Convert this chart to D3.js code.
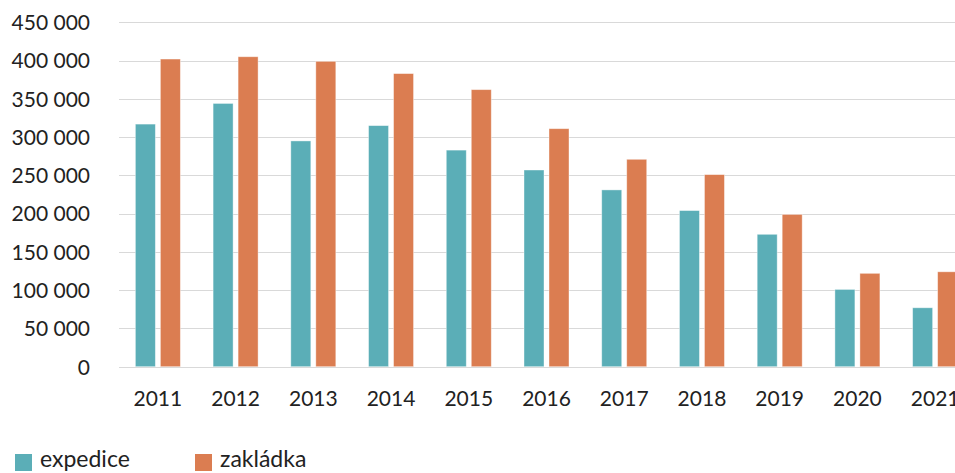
<!DOCTYPE html>
<html>
<head>
<meta charset="utf-8">
<script src="https://cdn.jsdelivr.net/npm/d3@7"></script>
<style>
  body { margin: 0; background: #fff; overflow: hidden; }
  svg text { font-family: "Source Sans Pro", Lato, "Noto Sans", sans-serif; fill: #222; }
</style>
</head>
<body>
<div id="chart"></div>
<script>
// chart values
var years = ["2011", "2012", "2013", "2014", "2015", "2016", "2017", "2018", "2019", "2020", "2021"];
var expedice = [317000, 344000, 295000, 315000, 283000, 257000, 231000, 204000, 173000, 101000, 77000];
var zakladka = [402000, 405000, 399000, 383000, 362000, 311000, 271000, 251000, 199000, 122000, 124000];
var seriesNames = ["expedice", "zakládka"];
var yTicks = [0, 50000, 100000, 150000, 200000, 250000, 300000, 350000, 400000, 450000];

var colors = ["#5baeb7", "#db7d51"];

var svgWidth = 955;
var svgHeight = 473;

var svg = d3.select("#chart")
  .append("svg")
  .attr("width", svgWidth)
  .attr("height", svgHeight);

// plot area runs past the right edge, the last year gets cut off
var x = d3.scaleBand()
  .domain(years)
  .range([119, 974]);

var y = d3.scaleLinear()
  .domain([0, 450000])
  .range([366.7, 22.3]);

// gridlines
svg.append("g")
  .selectAll("line")
  .data(yTicks)
  .enter()
  .append("line")
  .attr("x1", 119)
  .attr("x2", svgWidth)
  .attr("y1", d => Math.round(y(d)) + 0.5)
  .attr("y2", d => Math.round(y(d)) + 0.5)
  .attr("stroke", "#d9d9d9")
  .attr("stroke-width", 1);

// y axis labels
var fmt = d => d3.format(",")(d).replace(/,/g, " ");
var leftAxis = d3.axisLeft(y).tickValues(yTicks).tickFormat(fmt).tickSize(0).tickPadding(0);
var yAxis = svg.append("g")
  .attr("transform", "translate(90,0)")
  .call(leftAxis);
yAxis.select(".domain").remove();
yAxis.selectAll("text")
  .attr("font-size", 21)
  .attr("dy", "0.35em");

// x axis labels
var bottomAxis = d3.axisBottom(x).tickSize(0).tickPadding(0);
var xAxis = svg.append("g")
  .attr("transform", "translate(0,391)")
  .call(bottomAxis);
xAxis.select(".domain").remove();
xAxis.selectAll("text")
  .attr("font-size", 21)
  .attr("dy", "0.71em");

// bars
var inner = d3.scaleBand()
  .domain(seriesNames)
  .range([-22.5, 22.5])
  .paddingInner(0.2);

var rows = years.map((yr, i) => ({ year: yr, values: [expedice[i], zakladka[i]] }));

var groups = svg.selectAll(".year")
  .data(rows)
  .enter()
  .append("g")
  .attr("class", "year")
  .attr("transform", d => `translate(${x(d.year) + x.bandwidth() / 2},0)`);

groups.selectAll("rect")
  .data(d => d.values.map((v, j) => ({ name: seriesNames[j], value: v, j: j })))
  .enter()
  .append("rect")
  .attr("x", d => inner(d.name))
  .attr("width", inner.bandwidth())
  .attr("y", d => y(d.value))
  .attr("height", d => y(0) - y(d.value))
  .attr("fill", d => colors[d.j])
  .attr("stroke", "#fff")
  .attr("stroke-opacity", 0.5)
  .attr("stroke-width", 0.8);

// legend
var legend = svg.append("g")
  .selectAll("g")
  .data(seriesNames)
  .enter()
  .append("g")
  .attr("transform", (d, i) => `translate(${15 + i * 180},454)`);

legend.append("rect")
  .attr("width", 17)
  .attr("height", 17)
  .attr("fill", (d, i) => colors[i]);

legend.append("text")
  .attr("x", 25)
  .attr("y", 13)
  .attr("font-size", 23)
  .text(d => d);
</script>
</body>
</html>
